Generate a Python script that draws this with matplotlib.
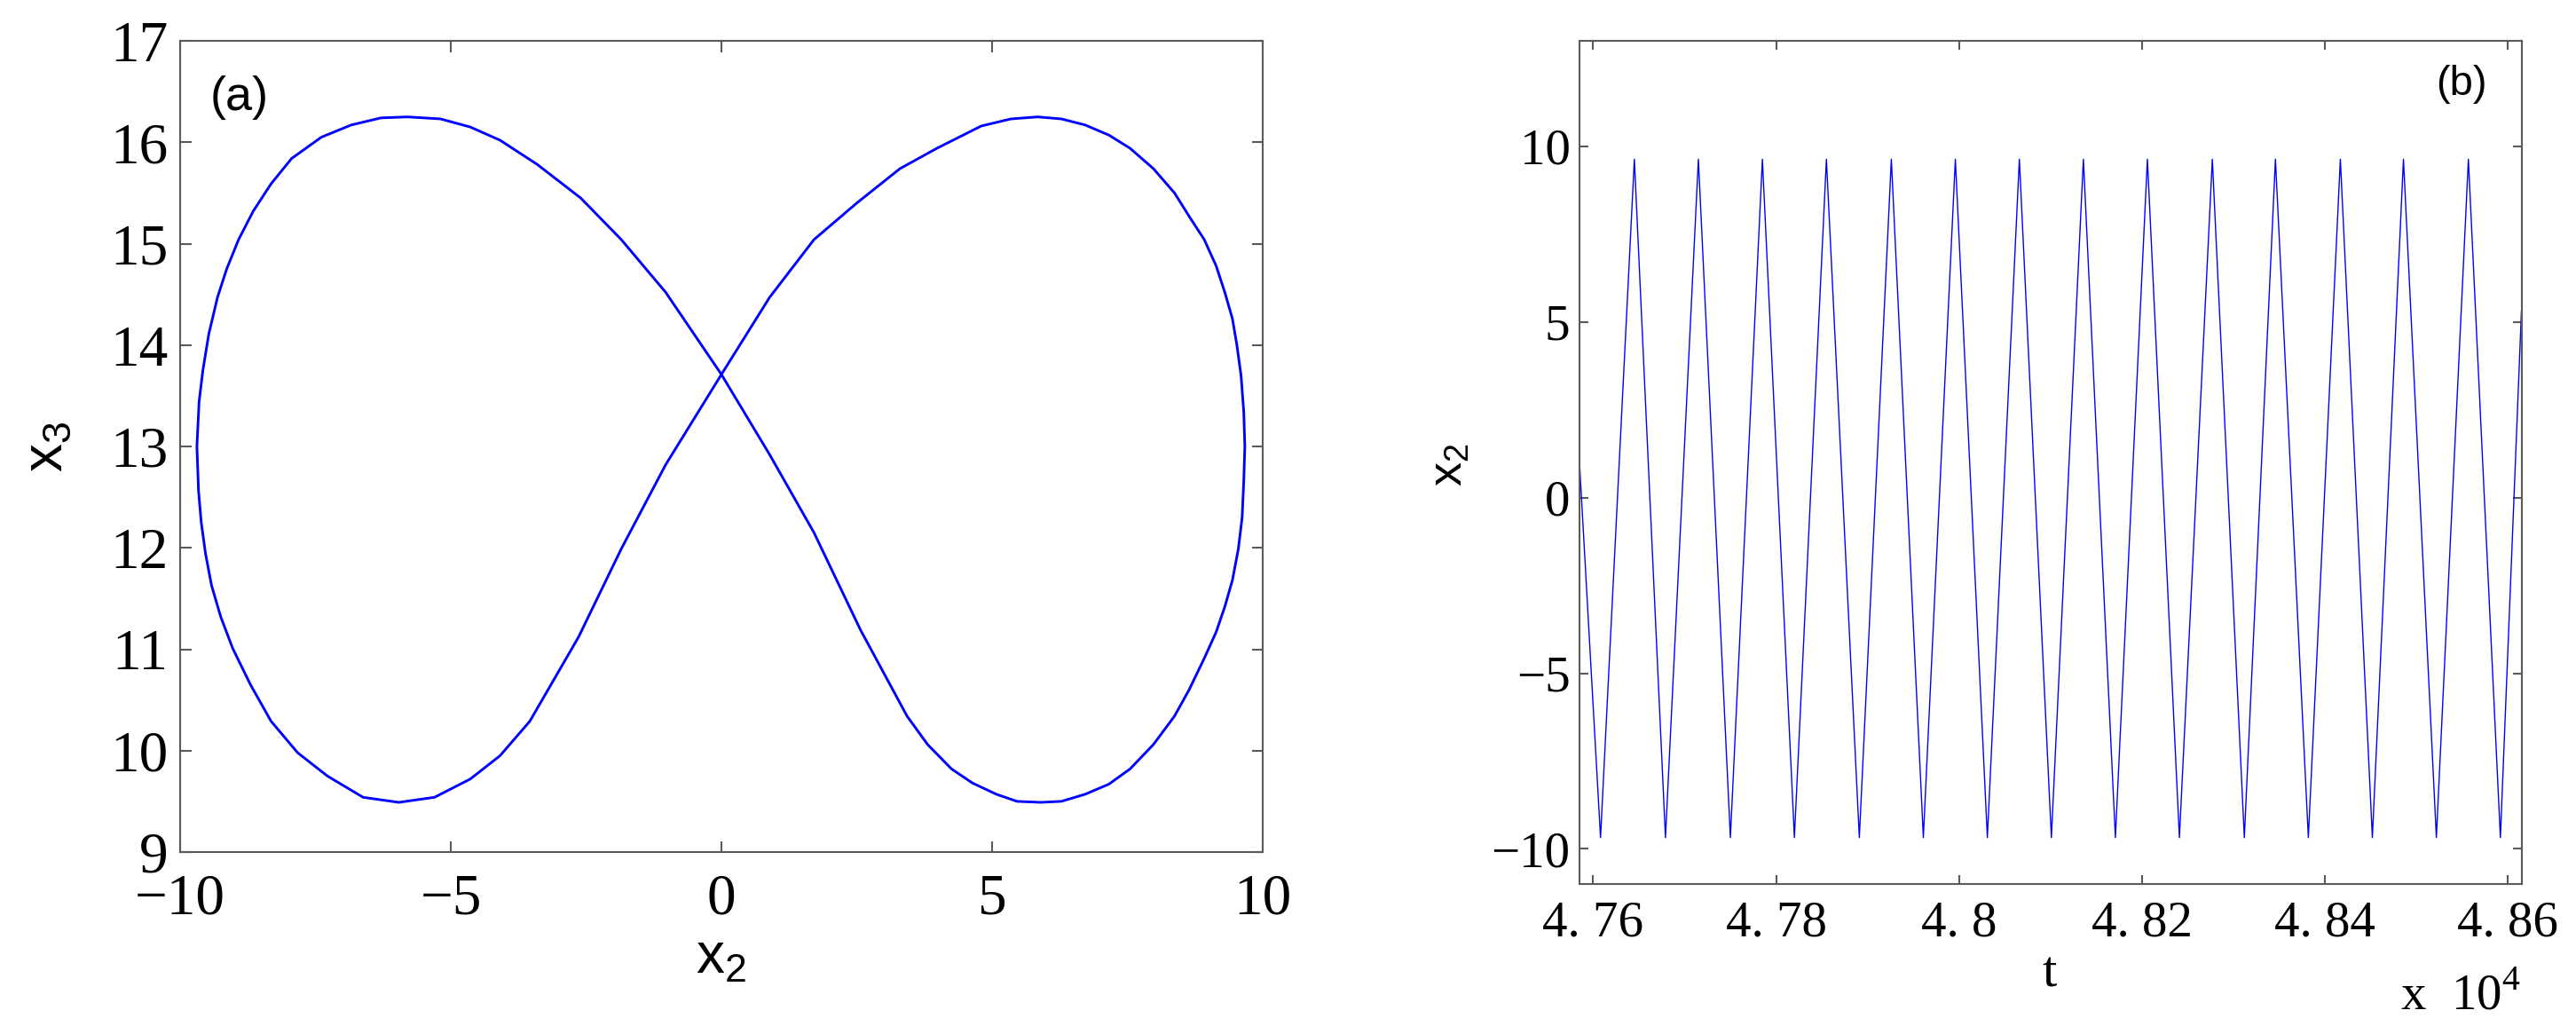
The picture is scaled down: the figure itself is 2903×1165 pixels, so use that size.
"""Periodic orbit: (a) phase portrait x2-x3, (b) time series of x2."""

import numpy as np
import matplotlib

matplotlib.use("Agg")
import matplotlib.pyplot as plt

# ---- panel (a): figure-eight orbit ----
# right lobe (counter-clockwise from the crossing), then left lobe
x2_loop = [0.00, 0.89, 1.71, 2.50, 3.30, 3.98, 4.80, 5.35, 5.84, 6.28,
           6.72, 7.16, 7.55, 7.98, 8.37, 8.64, 8.92, 9.14, 9.30, 9.44,
           9.52, 9.60, 9.65, 9.67, 9.65, 9.62, 9.55, 9.44, 9.30, 9.14,
           8.92, 8.64, 8.37, 7.98, 7.55, 7.16, 6.72, 6.28, 5.90, 5.46,
           5.08, 4.64, 4.25, 3.81, 3.43, 2.57, 1.71, 0.89, 0.00,
           -1.03, -1.85, -2.60, -3.40, -4.09, -4.64, -5.19, -5.80, -6.29, -6.84,
           -7.39, -7.94, -8.32, -8.65, -8.92, -9.14, -9.31, -9.47, -9.58, -9.65,
           -9.69, -9.66, -9.61, -9.53, -9.42, -9.25, -9.03, -8.70, -8.32, -7.83,
           -7.28, -6.62, -5.96, -5.30, -4.64, -4.09, -3.54, -2.64, -1.85, -1.03,
           0.00]
x3_loop = [13.71, 14.47, 15.04, 15.40, 15.74, 15.94, 16.16, 16.23, 16.25, 16.23,
           16.17, 16.07, 15.94, 15.74, 15.50, 15.27, 15.04, 14.78, 14.52, 14.26,
           14.01, 13.70, 13.34, 13.00, 12.66, 12.30, 11.99, 11.68, 11.42, 11.17,
           10.91, 10.60, 10.34, 10.06, 9.82, 9.67, 9.57, 9.50, 9.49, 9.50,
           9.57, 9.68, 9.82, 10.06, 10.34, 11.19, 12.15, 12.92, 13.71,
           14.52, 15.04, 15.45, 15.78, 16.02, 16.15, 16.23, 16.25, 16.24, 16.17,
           16.05, 15.84, 15.59, 15.32, 15.04, 14.75, 14.47, 14.11, 13.75, 13.44,
           13.00, 12.56, 12.25, 11.94, 11.63, 11.32, 11.01, 10.65, 10.29, 9.98,
           9.75, 9.54, 9.49, 9.54, 9.72, 9.95, 10.29, 11.12, 11.99, 12.82,
           13.71]

# ---- panel (b): extrema of x2(t) ----
trough_t = [47608, 47679, 47750, 47820, 47891, 47961, 48031, 48101,
            48171, 48241, 48312, 48382, 48452, 48522, 48592]
trough_x2 = [-9.68, -9.68, -9.68, -9.68, -9.68, -9.68, -9.68, -9.68,
             -9.68, -9.68, -9.68, -9.68, -9.68, -9.68, -9.68]
peak_t = [47645, 47715, 47785, 47855, 47926, 47996, 48066, 48136,
          48206, 48277, 48346, 48417, 48486, 48557]
peak_x2 = [9.63, 9.63, 9.63, 9.63, 9.63, 9.63, 9.63, 9.63,
           9.63, 9.63, 9.63, 9.63, 9.63, 9.63]
edge_t = [47585, 48615]
edge_x2 = [1.0, 5.3]

t_ticks = [47600, 47800, 48000, 48200, 48400, 48600]
t_ticklabels = ["4. 76", "4. 78", "4. 8", "4. 82", "4. 84", "4. 86"]

SPINE = "#5a5a5a"


def style_axes(ax, size, ticklen, xpad, ypad):
    for s in ax.spines.values():
        s.set_color(SPINE)
        s.set_linewidth(1.5)
    ax.tick_params(direction="in", top=True, right=True, length=ticklen,
                   width=1.5, color=SPINE, labelsize=size)
    ax.tick_params(axis="x", pad=xpad)
    ax.tick_params(axis="y", pad=ypad)


def main() -> None:
    plt.rcParams["font.family"] = ["Liberation Serif", "DejaVu Serif"]
    plt.rcParams["mathtext.fontset"] = "custom"
    plt.rcParams["mathtext.rm"] = "Liberation Serif"
    plt.rcParams["mathtext.sf"] = "Liberation Sans"

    fig = plt.figure(figsize=(29.03, 11.65), dpi=100)
    W, H = 2903.0, 1165.0

    # (a)
    ax1 = fig.add_axes([203 / W, 1 - 960 / H, 1220 / W, 914 / H])
    ax1.plot(x2_loop, x3_loop, color="#0000ff", lw=2.1,
             solid_joinstyle="round")
    ax1.set_xlim(-10, 10)
    ax1.set_ylim(9, 17)
    ax1.set_xticks([-10, -5, 0, 5, 10])
    ax1.set_yticks(range(9, 18))
    style_axes(ax1, 47, 9, 17, 10)

    # (b)
    ax2 = fig.add_axes([1780 / W, 1 - 996 / H, 1061.5 / W, 950 / H])
    t = np.concatenate([edge_t, trough_t, peak_t])
    v = np.concatenate([edge_x2, trough_x2, peak_x2])
    order = np.argsort(t)
    ax2.plot(t[order], v[order], color="#0000ff", lw=1.0)
    ax2.set_xlim(47585, 48615)
    ax2.set_ylim(-11, 13)
    ax2.set_xticks(t_ticks)
    ax2.set_xticklabels(t_ticklabels)
    ax2.set_yticks([-10, -5, 0, 5, 10])
    style_axes(ax2, 41, 7.5, 13, 7.5)

    # labels
    fig.text(813 / W, 1 - 1097 / H, r"$\mathsf{x_2}$", fontsize=46,
             ha="center", va="baseline")
    fig.text(55 / W, 1 - 503 / H, r"$\mathsf{x_3}$", fontsize=46,
             rotation=90, ha="center", va="center")
    fig.text(1634 / W, 1 - 524 / H, r"$\mathsf{x_2}$", fontsize=39,
             rotation=90, ha="center", va="center")
    fig.text(2310 / W, 1 - 1111 / H, "t", fontsize=42,
             ha="center", va="baseline")
    fig.text(2841 / W, 1 - 1138 / H, r"x  $10^{4}$", fontsize=41,
             ha="right", va="baseline")
    fig.text(237 / W, 1 - 110 / H, "(a)", fontsize=39,
             family="Liberation Sans", ha="left", va="center")
    fig.text(2803 / W, 1 - 95 / H, "(b)", fontsize=34,
             family="Liberation Sans", ha="right", va="center")

    fig.savefig("out.png", dpi=100)


if __name__ == "__main__":
    main()
